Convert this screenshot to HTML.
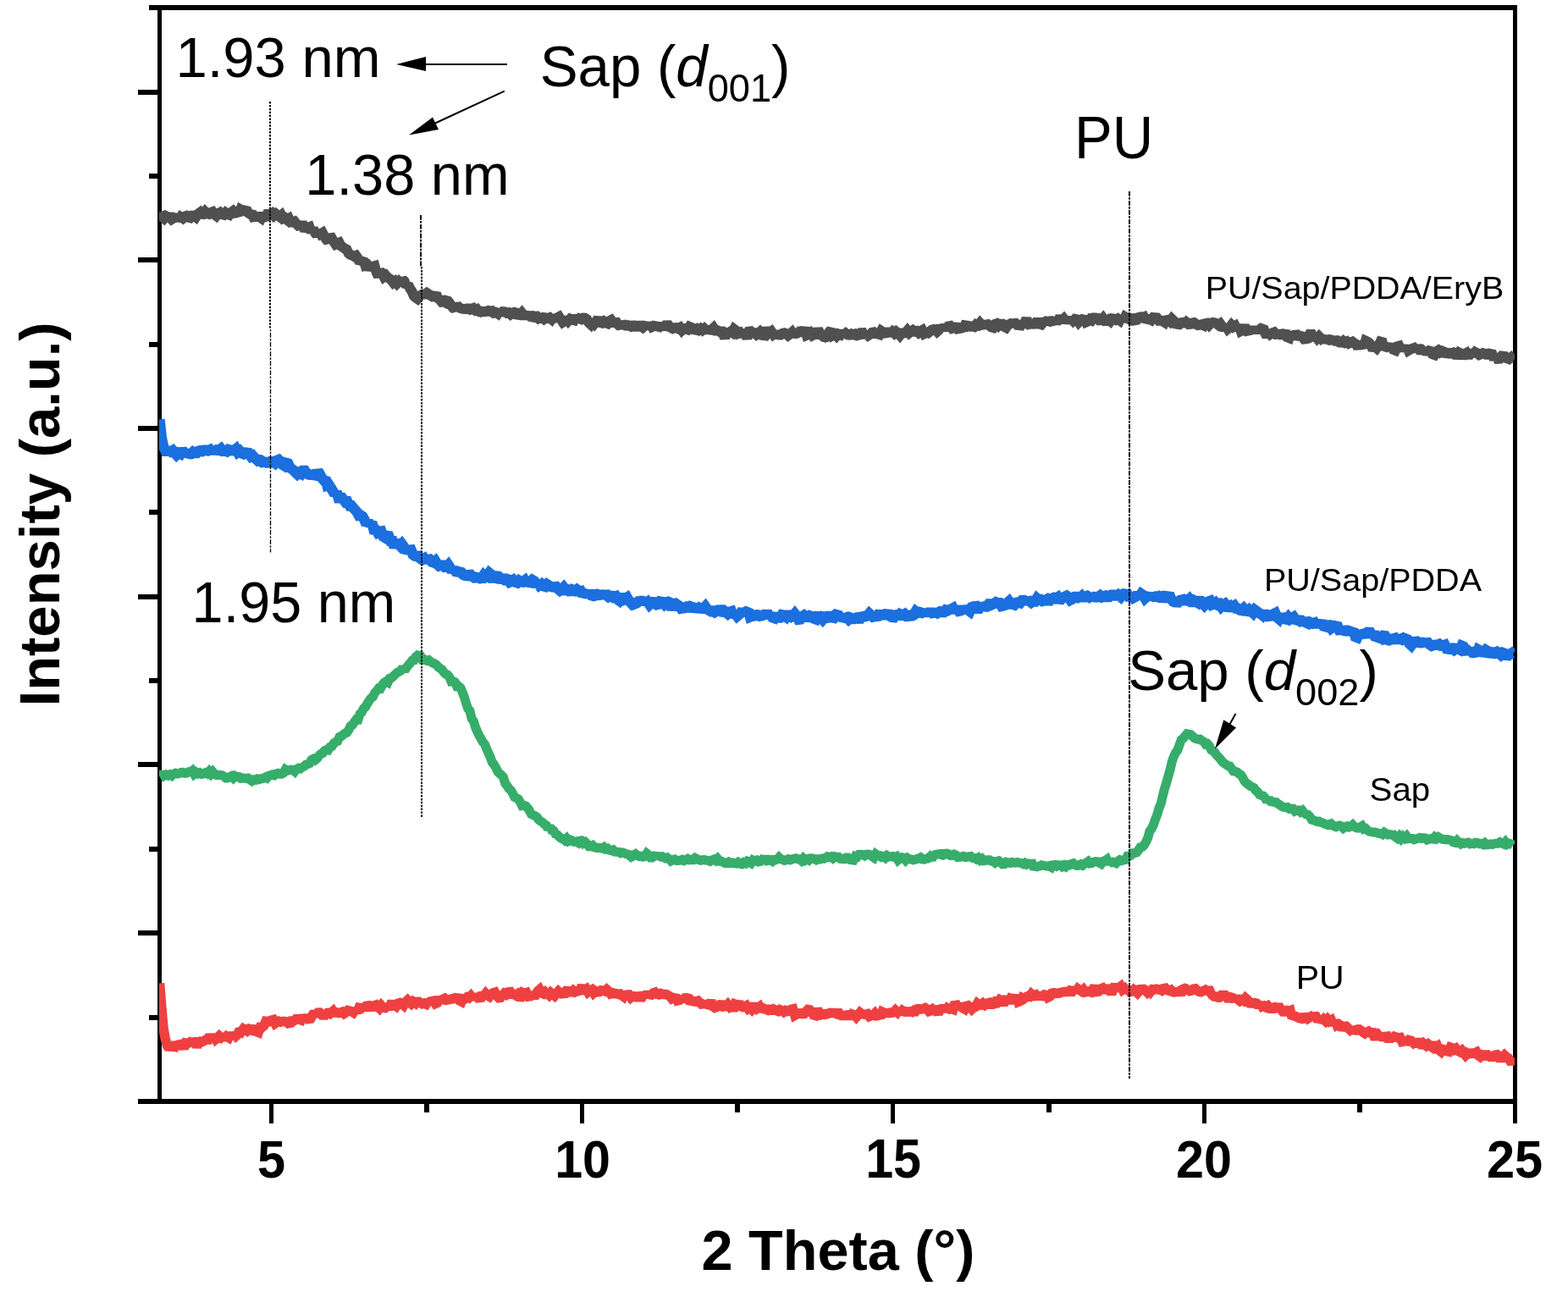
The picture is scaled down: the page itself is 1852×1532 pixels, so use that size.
<!DOCTYPE html>
<html><head><meta charset="utf-8"><title>XRD patterns</title>
<style>
html,body{margin:0;padding:0;background:#fff;}
body{width:1852px;height:1532px;overflow:hidden;}
svg{display:block;}
.lbl{font-family:"Liberation Sans",Arial,sans-serif;}
</style></head><body>
<svg width="1852" height="1532" viewBox="0 0 1852 1532">
<rect width="1852" height="1532" fill="#fff"/>
<defs><clipPath id="pc"><rect x="188" y="0" width="1601" height="1532"/></clipPath></defs>
<g fill="#000"><rect x="186" y="6" width="5" height="1298"/><rect x="1787" y="6" width="5" height="1298"/><rect x="176" y="6" width="1616" height="6"/><rect x="163" y="1298" width="1629" height="6"/><rect x="163" y="106" width="24" height="6"/><rect x="163" y="304" width="24" height="6"/><rect x="163" y="503" width="24" height="6"/><rect x="163" y="702" width="24" height="6"/><rect x="163" y="900" width="24" height="6"/><rect x="163" y="1099" width="24" height="6"/><rect x="176" y="205" width="11" height="6"/><rect x="176" y="404" width="11" height="6"/><rect x="176" y="602" width="11" height="6"/><rect x="176" y="801" width="11" height="6"/><rect x="176" y="1000" width="11" height="6"/><rect x="176" y="1199" width="11" height="6"/><rect x="318" y="1303" width="5" height="24"/><rect x="685" y="1303" width="5" height="24"/><rect x="1052" y="1303" width="5" height="24"/><rect x="1420" y="1303" width="5" height="24"/><rect x="1787" y="1303" width="5" height="24"/><rect x="501" y="1303" width="6" height="11"/><rect x="868" y="1303" width="6" height="11"/><rect x="1236" y="1303" width="6" height="11"/><rect x="1603" y="1303" width="6" height="11"/></g>
<g fill="none" stroke-width="10" stroke-linejoin="miter" stroke-miterlimit="1.6" stroke-linecap="butt" clip-path="url(#pc)"><path d="M189.5 250.1 L191.7 256.0 L193.9 258.0 L196.1 255.4 L198.3 256.6 L200.5 256.6 L202.7 259.0 L204.9 257.6 L207.1 259.2 L209.3 253.2 L211.5 260.5 L213.7 256.5 L215.9 257.9 L218.1 255.8 L220.3 255.0 L222.5 256.7 L224.7 257.3 L226.9 254.8 L229.1 254.8 L231.3 256.5 L233.5 252.9 L235.7 251.3 L237.9 255.4 L240.1 252.9 L242.3 250.0 L244.5 252.2 L246.7 252.8 L248.9 251.0 L251.1 250.2 L253.3 253.3 L255.5 255.0 L257.7 252.3 L259.9 251.0 L262.1 253.2 L264.3 253.8 L266.5 251.3 L268.7 253.0 L270.9 253.8 L273.1 250.9 L275.3 249.3 L277.5 251.6 L279.7 251.2 L281.9 252.9 L284.1 247.5 L286.3 248.8 L288.5 248.4 L290.7 246.6 L292.9 251.2 L295.1 252.7 L297.3 250.7 L299.5 256.2 L301.7 255.8 L303.9 256.1 L306.1 256.1 L308.3 257.6 L310.5 252.6 L312.7 256.3 L314.9 255.4 L317.1 249.2 L319.3 253.3 L321.5 251.9 L323.7 254.6 L325.9 252.7 L328.1 254.5 L330.3 256.1 L332.5 254.2 L334.7 258.2 L336.9 257.4 L339.1 259.5 L341.3 258.1 L343.5 262.5 L345.7 262.3 L347.9 261.5 L350.1 264.2 L352.3 266.6 L354.5 268.7 L356.7 262.4 L358.9 268.9 L361.1 269.1 L363.3 269.0 L365.5 268.2 L367.7 274.3 L369.9 270.0 L372.1 275.1 L374.3 277.8 L376.5 272.5 L378.7 276.3 L380.9 275.0 L383.1 279.3 L385.3 283.0 L387.5 285.0 L389.7 277.6 L391.9 281.3 L394.1 285.3 L396.3 288.5 L398.5 287.4 L400.7 286.5 L402.9 290.7 L405.1 292.0 L407.3 293.7 L409.5 294.6 L411.7 299.1 L413.9 300.9 L416.1 301.7 L418.3 303.0 L420.5 302.0 L422.7 305.1 L424.9 310.0 L427.1 308.1 L429.3 306.5 L431.5 313.7 L433.7 313.1 L435.9 317.8 L438.1 314.6 L440.3 314.8 L442.5 314.2 L444.7 321.9 L446.9 326.3 L449.1 320.5 L451.3 322.5 L453.5 326.9 L455.7 325.3 L457.9 327.9 L460.1 328.9 L462.3 331.1 L464.5 333.9 L466.7 332.2 L468.9 334.8 L471.1 332.5 L473.3 334.7 L475.5 330.0 L477.7 332.3 L479.9 338.1 L482.1 336.2 L484.3 340.8 L486.5 344.1 L488.7 349.5 L490.9 351.4 L493.1 352.9 L495.3 350.2 L497.5 348.4 L499.7 347.6 L501.9 347.6 L504.1 346.0 L506.3 347.5 L508.5 348.9 L510.7 350.3 L512.9 349.8 L515.1 347.2 L517.3 352.3 L519.5 353.9 L521.7 356.8 L523.9 356.6 L526.1 354.8 L528.3 355.4 L530.5 362.3 L532.7 360.4 L534.9 363.6 L537.1 365.2 L539.3 359.5 L541.5 362.9 L543.7 363.8 L545.9 364.6 L548.1 365.0 L550.3 364.7 L552.5 365.1 L554.7 361.7 L556.9 365.0 L559.1 364.1 L561.3 366.3 L563.5 365.3 L565.7 368.0 L567.9 368.7 L570.1 367.8 L572.3 368.1 L574.5 367.9 L576.7 367.0 L578.9 367.9 L581.1 367.4 L583.3 369.6 L585.5 369.0 L587.7 370.4 L589.9 366.5 L592.1 371.6 L594.3 368.2 L596.5 368.4 L598.7 369.8 L600.9 369.3 L603.1 371.3 L605.3 369.7 L607.5 368.8 L609.7 369.5 L611.9 374.5 L614.1 371.9 L616.3 369.5 L618.5 372.3 L620.7 369.1 L622.9 376.7 L625.1 369.6 L627.3 374.2 L629.5 374.6 L631.7 370.5 L633.9 374.5 L636.1 376.3 L638.3 375.4 L640.5 375.1 L642.7 376.9 L644.9 375.4 L647.1 376.0 L649.3 375.2 L651.5 377.1 L653.7 373.8 L655.9 377.8 L658.1 375.2 L660.3 374.1 L662.5 377.5 L664.7 380.6 L666.9 379.2 L669.1 376.2 L671.3 379.0 L673.5 376.7 L675.7 377.6 L677.9 378.2 L680.1 373.1 L682.3 378.8 L684.5 376.3 L686.7 377.2 L688.9 375.6 L691.1 375.7 L693.3 377.1 L695.5 381.2 L697.7 383.2 L699.9 379.6 L702.1 382.2 L704.3 379.4 L706.5 376.0 L708.7 380.7 L710.9 381.5 L713.1 379.7 L715.3 381.5 L717.5 382.2 L719.7 379.2 L721.9 378.0 L724.1 381.0 L726.3 381.2 L728.5 381.0 L730.7 384.1 L732.9 385.9 L735.1 381.4 L737.3 384.0 L739.5 384.7 L741.7 384.3 L743.9 385.2 L746.1 382.2 L748.3 384.9 L750.5 387.9 L752.7 385.3 L754.9 382.4 L757.1 385.2 L759.3 386.8 L761.5 385.0 L763.7 383.1 L765.9 387.9 L768.1 382.0 L770.3 386.0 L772.5 385.0 L774.7 382.6 L776.9 388.1 L779.1 386.3 L781.3 383.1 L783.5 387.2 L785.7 385.1 L787.9 382.0 L790.1 384.9 L792.3 387.1 L794.5 388.1 L796.7 387.2 L798.9 387.1 L801.1 388.2 L803.3 386.9 L805.5 390.1 L807.7 388.0 L809.9 388.5 L812.1 389.2 L814.3 385.9 L816.5 386.8 L818.7 391.9 L820.9 389.5 L823.1 388.3 L825.3 389.8 L827.5 388.2 L829.7 390.0 L831.9 388.1 L834.1 390.3 L836.3 386.4 L838.5 393.0 L840.7 389.2 L842.9 387.1 L845.1 390.3 L847.3 390.2 L849.5 391.5 L851.7 388.9 L853.9 392.5 L856.1 399.8 L858.3 389.2 L860.5 393.0 L862.7 391.7 L864.9 393.0 L867.1 388.8 L869.3 390.4 L871.5 394.0 L873.7 393.1 L875.9 396.8 L878.1 391.8 L880.3 393.7 L882.5 399.8 L884.7 391.7 L886.9 391.4 L889.1 393.3 L891.3 393.3 L893.5 395.3 L895.7 393.7 L897.9 391.7 L900.1 393.9 L902.3 399.2 L904.5 396.2 L906.7 387.3 L908.9 393.1 L911.1 391.5 L913.3 394.8 L915.5 393.0 L917.7 397.7 L919.9 395.4 L922.1 395.4 L924.3 393.8 L926.5 393.3 L928.7 394.1 L930.9 396.2 L933.1 394.6 L935.3 392.6 L937.5 396.2 L939.7 393.8 L941.9 393.3 L944.1 391.7 L946.3 392.2 L948.5 392.1 L950.7 387.5 L952.9 395.9 L955.1 395.0 L957.3 393.3 L959.5 396.2 L961.7 394.9 L963.9 394.9 L966.1 388.7 L968.3 393.7 L970.5 395.5 L972.7 397.9 L974.9 398.5 L977.1 397.7 L979.3 392.0 L981.5 389.8 L983.7 396.0 L985.9 394.8 L988.1 396.9 L990.3 394.5 L992.5 395.3 L994.7 391.5 L996.9 395.8 L999.1 393.8 L1001.3 395.5 L1003.5 395.7 L1005.7 394.4 L1007.9 395.3 L1010.1 394.5 L1012.3 396.2 L1014.5 395.6 L1016.7 393.2 L1018.9 393.1 L1021.1 398.1 L1023.3 394.0 L1025.5 396.3 L1027.7 394.9 L1029.9 392.7 L1032.1 392.3 L1034.3 394.1 L1036.5 394.3 L1038.7 395.0 L1040.9 390.8 L1043.1 392.2 L1045.3 393.2 L1047.5 396.9 L1049.7 388.1 L1051.9 394.1 L1054.1 391.9 L1056.3 393.9 L1058.5 391.8 L1060.7 393.6 L1062.9 396.1 L1065.1 393.3 L1067.3 393.4 L1069.5 393.1 L1071.7 390.5 L1073.9 393.2 L1076.1 391.4 L1078.3 390.0 L1080.5 391.5 L1082.7 391.0 L1084.9 393.0 L1087.1 391.1 L1089.3 389.9 L1091.5 394.1 L1093.7 392.9 L1095.9 393.4 L1098.1 391.7 L1100.3 389.9 L1102.5 389.1 L1104.7 389.2 L1106.9 391.6 L1109.1 389.6 L1111.3 385.8 L1113.5 388.7 L1115.7 385.5 L1117.9 388.7 L1120.1 385.4 L1122.3 385.0 L1124.5 387.8 L1126.7 387.1 L1128.9 383.4 L1131.1 388.5 L1133.3 391.4 L1135.5 383.1 L1137.7 390.2 L1139.9 384.4 L1142.1 384.7 L1144.3 385.2 L1146.5 382.2 L1148.7 388.1 L1150.9 386.2 L1153.1 383.3 L1155.3 384.2 L1157.5 381.4 L1159.7 383.8 L1161.9 386.6 L1164.1 380.6 L1166.3 383.3 L1168.5 384.5 L1170.7 386.4 L1172.9 387.0 L1175.1 382.9 L1177.3 382.2 L1179.5 384.7 L1181.7 382.8 L1183.9 382.8 L1186.1 385.8 L1188.3 387.0 L1190.5 383.8 L1192.7 382.7 L1194.9 384.3 L1197.1 378.7 L1199.3 382.7 L1201.5 380.3 L1203.7 387.8 L1205.9 383.9 L1208.1 382.5 L1210.3 381.6 L1212.5 376.3 L1214.7 383.3 L1216.9 385.1 L1219.1 379.7 L1221.3 382.6 L1223.5 382.5 L1225.7 377.3 L1227.9 382.6 L1230.1 383.3 L1232.3 380.7 L1234.5 379.8 L1236.7 381.5 L1238.9 376.2 L1241.1 379.7 L1243.3 381.6 L1245.5 376.4 L1247.7 381.2 L1249.9 378.0 L1252.1 374.2 L1254.3 378.4 L1256.5 376.4 L1258.7 379.2 L1260.9 375.8 L1263.1 380.7 L1265.3 376.7 L1267.5 379.0 L1269.7 376.9 L1271.9 377.4 L1274.1 380.7 L1276.3 378.5 L1278.5 377.1 L1280.7 375.2 L1282.9 380.4 L1285.1 379.5 L1287.3 377.1 L1289.5 378.3 L1291.7 375.4 L1293.9 375.4 L1296.1 375.8 L1298.3 378.3 L1300.5 378.1 L1302.7 375.8 L1304.9 379.0 L1307.1 379.0 L1309.3 377.6 L1311.5 379.4 L1313.7 376.4 L1315.9 376.6 L1318.1 377.8 L1320.3 376.5 L1322.5 378.2 L1324.7 373.5 L1326.9 379.3 L1329.1 374.3 L1331.3 375.6 L1333.5 372.9 L1335.7 377.2 L1337.9 378.7 L1340.1 378.3 L1342.3 377.9 L1344.5 372.7 L1346.7 374.5 L1348.9 375.3 L1351.1 374.4 L1353.3 379.0 L1355.5 377.1 L1357.7 376.8 L1359.9 378.0 L1362.1 375.0 L1364.3 375.2 L1366.5 375.4 L1368.7 378.7 L1370.9 378.6 L1373.1 379.3 L1375.3 380.7 L1377.5 375.6 L1379.7 377.7 L1381.9 379.6 L1384.1 376.6 L1386.3 378.7 L1388.5 382.4 L1390.7 382.9 L1392.9 383.2 L1395.1 381.2 L1397.3 380.9 L1399.5 383.9 L1401.7 380.9 L1403.9 382.7 L1406.1 385.0 L1408.3 381.5 L1410.5 381.1 L1412.7 382.6 L1414.9 384.1 L1417.1 383.9 L1419.3 383.4 L1421.5 384.4 L1423.7 379.8 L1425.9 381.6 L1428.1 384.0 L1430.3 381.7 L1432.5 381.0 L1434.7 381.4 L1436.9 382.2 L1439.1 384.0 L1441.3 382.4 L1443.5 385.4 L1445.7 388.8 L1447.9 385.0 L1450.1 388.5 L1452.3 386.6 L1454.5 383.8 L1456.7 386.1 L1458.9 384.8 L1461.1 389.1 L1463.3 385.2 L1465.5 391.0 L1467.7 389.8 L1469.9 384.4 L1472.1 391.0 L1474.3 393.0 L1476.5 388.2 L1478.7 392.5 L1480.9 386.7 L1483.1 391.5 L1485.3 387.6 L1487.5 392.5 L1489.7 387.8 L1491.9 386.2 L1494.1 393.1 L1496.3 397.4 L1498.5 391.3 L1500.7 394.6 L1502.9 393.3 L1505.1 392.5 L1507.3 394.8 L1509.5 397.2 L1511.7 391.1 L1513.9 395.2 L1516.1 395.0 L1518.3 391.3 L1520.5 398.2 L1522.7 399.1 L1524.9 393.0 L1527.1 399.1 L1529.3 395.7 L1531.5 395.5 L1533.7 399.4 L1535.9 396.9 L1538.1 397.4 L1540.3 400.4 L1542.5 400.2 L1544.7 399.7 L1546.9 394.9 L1549.1 394.9 L1551.3 401.2 L1553.5 397.0 L1555.7 399.7 L1557.9 397.4 L1560.1 399.7 L1562.3 397.6 L1564.5 404.4 L1566.7 398.9 L1568.9 401.2 L1571.1 401.3 L1573.3 404.7 L1575.5 399.2 L1577.7 402.6 L1579.9 402.5 L1582.1 404.4 L1584.3 404.6 L1586.5 402.8 L1588.7 404.7 L1590.9 403.6 L1593.1 405.7 L1595.3 404.8 L1597.5 403.8 L1599.7 405.5 L1601.9 406.6 L1604.1 411.1 L1606.3 405.3 L1608.5 407.3 L1610.7 410.1 L1612.9 402.6 L1615.1 403.6 L1617.3 405.0 L1619.5 407.6 L1621.7 413.5 L1623.9 409.2 L1626.1 411.2 L1628.3 408.3 L1630.5 403.6 L1632.7 404.2 L1634.9 411.7 L1637.1 410.1 L1639.3 407.0 L1641.5 412.6 L1643.7 406.9 L1645.9 413.0 L1648.1 413.9 L1650.3 409.3 L1652.5 408.7 L1654.7 413.2 L1656.9 409.2 L1659.1 413.7 L1661.3 409.4 L1663.5 414.0 L1665.7 412.7 L1667.9 411.8 L1670.1 411.0 L1672.3 413.7 L1674.5 409.3 L1676.7 413.1 L1678.9 413.0 L1681.1 415.6 L1683.3 411.6 L1685.5 418.3 L1687.7 414.1 L1689.9 412.5 L1692.1 418.3 L1694.3 419.1 L1696.5 415.2 L1698.7 413.8 L1700.9 416.0 L1703.1 414.6 L1705.3 415.5 L1707.5 419.8 L1709.7 417.3 L1711.9 416.9 L1714.1 417.5 L1716.3 416.7 L1718.5 418.8 L1720.7 418.9 L1722.9 416.3 L1725.1 417.4 L1727.3 422.6 L1729.5 418.3 L1731.7 417.1 L1733.9 422.1 L1736.1 417.7 L1738.3 415.4 L1740.5 419.5 L1742.7 416.1 L1744.9 417.2 L1747.1 419.1 L1749.3 418.3 L1751.5 417.1 L1753.7 417.7 L1755.9 417.8 L1758.1 421.9 L1760.3 418.0 L1762.5 418.5 L1764.7 424.5 L1766.9 419.0 L1769.1 423.7 L1771.3 423.6 L1773.5 420.6 L1775.7 418.1 L1777.9 422.5 L1780.1 423.2 L1782.3 424.1 L1784.5 422.4 L1786.7 425.2 L1787.0 425.7" stroke="#505050" stroke-width="12"/><path d="M188.5 495.5 L190.7 516.5 L192.9 527.0 L195.1 531.6 L197.3 536.5 L199.5 531.5 L201.7 533.2 L203.9 532.0 L206.1 534.8 L208.3 537.2 L210.5 534.9 L212.7 535.9 L214.9 530.5 L217.1 534.9 L219.3 532.5 L221.5 538.2 L223.7 536.1 L225.9 536.1 L228.1 533.8 L230.3 535.1 L232.5 535.1 L234.7 532.7 L236.9 532.2 L239.1 532.9 L241.3 531.7 L243.5 531.7 L245.7 532.4 L247.9 531.4 L250.1 534.7 L252.3 529.5 L254.5 534.8 L256.7 531.6 L258.9 531.8 L261.1 530.0 L263.3 532.7 L265.5 532.5 L267.7 533.3 L269.9 531.0 L272.1 531.6 L274.3 534.8 L276.5 531.8 L278.7 530.1 L280.9 534.2 L283.1 532.7 L285.3 535.3 L287.5 536.2 L289.7 534.7 L291.9 532.1 L294.1 536.4 L296.3 539.3 L298.5 538.1 L300.7 540.7 L302.9 542.7 L305.1 540.1 L307.3 544.7 L309.5 546.1 L311.7 545.5 L313.9 546.1 L316.1 546.4 L318.3 549.3 L320.5 545.2 L322.7 545.1 L324.9 546.9 L327.1 544.0 L329.3 543.1 L331.5 545.2 L333.7 548.8 L335.9 550.1 L338.1 547.0 L340.3 547.6 L342.5 552.4 L344.7 554.0 L346.9 555.6 L349.1 558.2 L351.3 560.2 L353.5 558.4 L355.7 559.6 L357.9 556.0 L360.1 556.0 L362.3 559.3 L364.5 560.4 L366.7 560.7 L368.9 560.6 L371.1 561.2 L373.3 561.6 L375.5 556.4 L377.7 559.8 L379.9 564.2 L382.1 566.8 L384.3 564.8 L386.5 573.5 L388.7 572.9 L390.9 576.3 L393.1 580.1 L395.3 583.6 L397.5 580.8 L399.7 588.1 L401.9 588.0 L404.1 588.0 L406.3 590.9 L408.5 588.6 L410.7 593.7 L412.9 597.4 L415.1 597.3 L417.3 600.0 L419.5 602.4 L421.7 604.8 L423.9 608.9 L426.1 608.7 L428.3 610.2 L430.5 614.0 L432.7 619.4 L434.9 616.1 L437.1 619.9 L439.3 617.2 L441.5 625.5 L443.7 625.8 L445.9 629.1 L448.1 627.9 L450.3 627.5 L452.5 633.5 L454.7 634.9 L456.9 633.0 L459.1 633.3 L461.3 639.0 L463.5 639.1 L465.7 646.6 L467.9 640.9 L470.1 642.4 L472.3 644.6 L474.5 642.4 L476.7 645.4 L478.9 652.2 L481.1 649.6 L483.3 649.8 L485.5 649.6 L487.7 655.1 L489.9 656.6 L492.1 657.1 L494.3 656.9 L496.5 659.7 L498.7 661.1 L500.9 659.8 L503.1 663.5 L505.3 658.3 L507.5 660.7 L509.7 663.5 L511.9 664.4 L514.1 662.6 L516.3 666.3 L518.5 668.4 L520.7 667.6 L522.9 667.7 L525.1 669.7 L527.3 669.5 L529.5 667.2 L531.7 670.5 L533.9 675.1 L536.1 671.2 L538.3 675.1 L540.5 675.4 L542.7 675.4 L544.9 676.0 L547.1 678.9 L549.3 679.8 L551.5 680.0 L553.7 676.4 L555.9 679.2 L558.1 680.8 L560.3 682.3 L562.5 681.9 L564.7 682.4 L566.9 683.2 L569.1 682.8 L571.3 679.5 L573.5 681.6 L575.7 680.2 L577.9 676.8 L580.1 678.6 L582.3 687.1 L584.5 680.3 L586.7 678.1 L588.9 682.0 L591.1 686.8 L593.3 683.7 L595.5 684.9 L597.7 683.7 L599.9 684.4 L602.1 687.6 L604.3 686.8 L606.5 685.2 L608.7 687.6 L610.9 688.3 L613.1 685.8 L615.3 687.2 L617.5 687.5 L619.7 685.8 L621.9 690.1 L624.1 687.6 L626.3 687.0 L628.5 685.0 L630.7 686.3 L632.9 692.8 L635.1 687.3 L637.3 691.2 L639.5 689.8 L641.7 692.2 L643.9 692.8 L646.1 690.2 L648.3 691.6 L650.5 692.9 L652.7 693.4 L654.9 693.5 L657.1 693.2 L659.3 695.7 L661.5 697.6 L663.7 696.3 L665.9 693.9 L668.1 696.8 L670.3 696.4 L672.5 697.7 L674.7 701.2 L676.9 697.0 L679.1 697.9 L681.3 696.3 L683.5 698.1 L685.7 697.9 L687.9 703.0 L690.1 700.6 L692.3 699.1 L694.5 705.0 L696.7 698.2 L698.9 703.4 L701.1 704.1 L703.3 703.5 L705.5 702.1 L707.7 702.8 L709.9 702.7 L712.1 705.5 L714.3 699.0 L716.5 703.3 L718.7 705.1 L720.9 703.9 L723.1 701.5 L725.3 705.2 L727.5 704.4 L729.7 708.1 L731.9 709.7 L734.1 707.1 L736.3 703.0 L738.5 707.1 L740.7 705.7 L742.9 709.6 L745.1 712.0 L747.3 709.3 L749.5 713.3 L751.7 712.4 L753.9 710.9 L756.1 707.7 L758.3 710.3 L760.5 707.2 L762.7 712.9 L764.9 711.2 L767.1 714.2 L769.3 712.1 L771.5 707.5 L773.7 713.4 L775.9 714.4 L778.1 716.2 L780.3 710.7 L782.5 711.1 L784.7 713.6 L786.9 711.4 L789.1 710.9 L791.3 711.8 L793.5 720.2 L795.7 713.4 L797.9 712.8 L800.1 714.3 L802.3 715.6 L804.5 718.7 L806.7 718.2 L808.9 718.1 L811.1 716.7 L813.3 717.3 L815.5 715.8 L817.7 714.2 L819.9 722.2 L822.1 717.0 L824.3 720.5 L826.5 717.9 L828.7 718.7 L830.9 718.8 L833.1 716.4 L835.3 719.5 L837.5 720.8 L839.7 722.1 L841.9 721.7 L844.1 723.2 L846.3 721.9 L848.5 721.5 L850.7 717.5 L852.9 721.0 L855.1 725.9 L857.3 723.1 L859.5 724.9 L861.7 722.9 L863.9 722.2 L866.1 728.5 L868.3 725.0 L870.5 727.8 L872.7 725.9 L874.9 724.3 L877.1 720.3 L879.3 725.6 L881.5 722.1 L883.7 720.9 L885.9 728.6 L888.1 727.7 L890.3 727.6 L892.5 726.5 L894.7 726.4 L896.9 727.6 L899.1 727.1 L901.3 727.0 L903.5 728.6 L905.7 721.7 L907.9 729.2 L910.1 725.9 L912.3 729.3 L914.5 730.1 L916.7 725.8 L918.9 729.5 L921.1 729.5 L923.3 726.3 L925.5 726.8 L927.7 728.3 L929.9 723.2 L932.1 727.2 L934.3 728.6 L936.5 727.3 L938.7 724.8 L940.9 727.6 L943.1 731.8 L945.3 731.5 L947.5 728.4 L949.7 726.9 L951.9 728.7 L954.1 728.9 L956.3 727.4 L958.5 728.3 L960.7 730.4 L962.9 731.2 L965.1 723.8 L967.3 731.4 L969.5 729.6 L971.7 731.9 L973.9 729.4 L976.1 730.4 L978.3 733.1 L980.5 723.0 L982.7 733.1 L984.9 730.0 L987.1 725.6 L989.3 723.7 L991.5 730.3 L993.7 727.3 L995.9 731.8 L998.1 730.0 L1000.3 729.2 L1002.5 731.6 L1004.7 729.8 L1006.9 730.9 L1009.1 731.0 L1011.3 729.8 L1013.5 730.7 L1015.7 730.6 L1017.9 725.7 L1020.1 728.0 L1022.3 728.2 L1024.5 727.5 L1026.7 724.7 L1028.9 726.8 L1031.1 728.7 L1033.3 728.2 L1035.5 731.0 L1037.7 726.2 L1039.9 726.4 L1042.1 726.0 L1044.3 726.4 L1046.5 725.6 L1048.7 722.7 L1050.9 727.5 L1053.1 728.8 L1055.3 729.0 L1057.5 724.0 L1059.7 725.8 L1061.9 730.2 L1064.1 725.7 L1066.3 726.6 L1068.5 725.4 L1070.7 727.8 L1072.9 727.6 L1075.1 730.4 L1077.3 726.3 L1079.5 726.0 L1081.7 722.2 L1083.9 723.8 L1086.1 723.0 L1088.3 723.7 L1090.5 721.4 L1092.7 726.8 L1094.9 721.6 L1097.1 724.4 L1099.3 720.8 L1101.5 724.2 L1103.7 726.8 L1105.9 721.2 L1108.1 723.6 L1110.3 722.4 L1112.5 723.0 L1114.7 723.1 L1116.9 720.6 L1119.1 721.3 L1121.3 720.2 L1123.5 719.5 L1125.7 718.3 L1127.9 722.9 L1130.1 719.0 L1132.3 721.8 L1134.5 721.3 L1136.7 717.7 L1138.9 721.9 L1141.1 717.5 L1143.3 720.5 L1145.5 722.1 L1147.7 717.1 L1149.9 716.3 L1152.1 716.1 L1154.3 722.9 L1156.5 716.8 L1158.7 714.5 L1160.9 718.8 L1163.1 716.4 L1165.3 716.4 L1167.5 714.0 L1169.7 711.0 L1171.9 714.0 L1174.1 713.0 L1176.3 711.4 L1178.5 712.3 L1180.7 712.3 L1182.9 715.9 L1185.1 715.4 L1187.3 714.7 L1189.5 712.1 L1191.7 710.2 L1193.9 713.4 L1196.1 713.5 L1198.3 714.4 L1200.5 711.9 L1202.7 711.4 L1204.9 712.1 L1207.1 709.2 L1209.3 709.2 L1211.5 712.1 L1213.7 707.7 L1215.9 710.0 L1218.1 711.7 L1220.3 710.2 L1222.5 710.4 L1224.7 706.8 L1226.9 708.7 L1229.1 708.2 L1231.3 709.9 L1233.5 709.3 L1235.7 708.2 L1237.9 712.1 L1240.1 708.9 L1242.3 706.9 L1244.5 706.0 L1246.7 707.0 L1248.9 705.7 L1251.1 710.4 L1253.3 707.9 L1255.5 705.8 L1257.7 704.9 L1259.9 703.8 L1262.1 705.5 L1264.3 708.8 L1266.5 707.7 L1268.7 705.6 L1270.9 705.9 L1273.1 701.4 L1275.3 707.0 L1277.5 704.8 L1279.7 708.2 L1281.9 704.7 L1284.1 703.9 L1286.3 705.3 L1288.5 703.4 L1290.7 707.6 L1292.9 705.2 L1295.1 705.3 L1297.3 705.1 L1299.5 703.5 L1301.7 705.3 L1303.9 704.5 L1306.1 707.9 L1308.3 704.0 L1310.5 704.6 L1312.7 702.7 L1314.9 702.7 L1317.1 702.7 L1319.3 706.1 L1321.5 703.3 L1323.7 705.1 L1325.9 702.2 L1328.1 701.9 L1330.3 698.4 L1332.5 704.4 L1334.7 707.1 L1336.9 702.1 L1339.1 705.9 L1341.3 704.7 L1343.5 701.5 L1345.7 704.9 L1347.9 701.5 L1350.1 703.0 L1352.3 706.6 L1354.5 704.5 L1356.7 701.9 L1358.9 707.8 L1361.1 702.5 L1363.3 704.8 L1365.5 704.6 L1367.7 705.2 L1369.9 703.9 L1372.1 702.4 L1374.3 710.3 L1376.5 704.3 L1378.7 704.6 L1380.9 701.4 L1383.1 707.2 L1385.3 710.1 L1387.5 710.5 L1389.7 713.8 L1391.9 711.2 L1394.1 709.0 L1396.3 708.5 L1398.5 711.8 L1400.7 708.8 L1402.9 709.6 L1405.1 707.4 L1407.3 710.0 L1409.5 714.4 L1411.7 710.2 L1413.9 711.5 L1416.1 705.6 L1418.3 714.2 L1420.5 712.4 L1422.7 715.0 L1424.9 712.7 L1427.1 710.7 L1429.3 709.9 L1431.5 714.3 L1433.7 713.5 L1435.9 711.8 L1438.1 714.1 L1440.3 713.3 L1442.5 716.6 L1444.7 714.5 L1446.9 713.2 L1449.1 716.1 L1451.3 715.5 L1453.5 720.5 L1455.7 716.7 L1457.9 715.4 L1460.1 718.7 L1462.3 718.8 L1464.5 720.5 L1466.7 720.9 L1468.9 718.7 L1471.1 721.4 L1473.3 721.8 L1475.5 719.9 L1477.7 721.8 L1479.9 723.9 L1482.1 720.4 L1484.3 722.0 L1486.5 723.7 L1488.7 724.9 L1490.9 726.6 L1493.1 722.8 L1495.3 726.8 L1497.5 727.8 L1499.7 730.2 L1501.9 726.2 L1504.1 725.4 L1506.3 724.3 L1508.5 729.2 L1510.7 731.1 L1512.9 727.0 L1515.1 729.8 L1517.3 731.1 L1519.5 731.6 L1521.7 729.0 L1523.9 731.6 L1526.1 730.5 L1528.3 728.9 L1530.5 732.0 L1532.7 732.6 L1534.9 730.2 L1537.1 733.7 L1539.3 737.6 L1541.5 730.5 L1543.7 735.8 L1545.9 736.8 L1548.1 735.4 L1550.3 736.5 L1552.5 735.7 L1554.7 739.8 L1556.9 735.3 L1559.1 737.6 L1561.3 734.1 L1563.5 739.6 L1565.7 740.2 L1567.9 736.2 L1570.1 738.5 L1572.3 741.9 L1574.5 740.2 L1576.7 739.1 L1578.9 736.7 L1581.1 743.4 L1583.3 747.4 L1585.5 742.5 L1587.7 744.9 L1589.9 745.3 L1592.1 744.7 L1594.3 745.5 L1596.5 746.0 L1598.7 744.2 L1600.9 752.1 L1603.1 753.0 L1605.3 748.1 L1607.5 751.8 L1609.7 746.5 L1611.9 748.2 L1614.1 751.6 L1616.3 747.0 L1618.5 747.1 L1620.7 751.1 L1622.9 746.4 L1625.1 755.0 L1627.3 753.3 L1629.5 752.6 L1631.7 754.0 L1633.9 750.9 L1636.1 751.2 L1638.3 755.6 L1640.5 756.2 L1642.7 754.8 L1644.9 754.8 L1647.1 754.1 L1649.3 758.7 L1651.5 752.8 L1653.7 754.5 L1655.9 755.5 L1658.1 753.7 L1660.3 754.5 L1662.5 755.4 L1664.7 760.2 L1666.9 762.3 L1669.1 759.3 L1671.3 755.3 L1673.5 757.8 L1675.7 759.1 L1677.9 759.1 L1680.1 759.1 L1682.3 761.3 L1684.5 756.2 L1686.7 759.4 L1688.9 761.4 L1691.1 762.8 L1693.3 762.1 L1695.5 761.8 L1697.7 761.8 L1699.9 760.9 L1702.1 762.8 L1704.3 762.5 L1706.5 761.7 L1708.7 766.3 L1710.9 766.6 L1713.1 763.5 L1715.3 766.0 L1717.5 767.7 L1719.7 766.0 L1721.9 766.0 L1724.1 767.2 L1726.3 762.8 L1728.5 763.7 L1730.7 768.3 L1732.9 768.1 L1735.1 770.8 L1737.3 767.0 L1739.5 770.8 L1741.7 771.0 L1743.9 773.3 L1746.1 767.4 L1748.3 768.6 L1750.5 770.2 L1752.7 770.4 L1754.9 767.8 L1757.1 769.0 L1759.3 767.6 L1761.5 775.7 L1763.7 770.7 L1765.9 771.0 L1768.1 769.9 L1770.3 771.4 L1772.5 773.3 L1774.7 771.0 L1776.9 771.8 L1779.1 776.8 L1781.3 774.1 L1783.5 772.8 L1785.7 771.4 L1787.0 772.4" stroke="#1b6fde" stroke-width="12.5"/><path d="M189.7 917.5 L191.9 911.9 L194.1 916.2 L196.3 915.0 L198.5 916.1 L200.7 914.9 L202.9 916.3 L205.1 914.1 L207.3 913.2 L209.5 914.1 L211.7 913.6 L213.9 912.5 L216.1 912.4 L218.3 913.3 L220.5 913.1 L222.7 911.8 L224.9 911.9 L227.1 910.3 L229.3 914.1 L231.5 912.1 L233.7 913.8 L235.9 912.8 L238.1 914.4 L240.3 914.0 L242.5 912.7 L244.7 913.9 L246.9 911.4 L249.1 914.2 L251.3 911.7 L253.5 914.2 L255.7 915.6 L257.9 915.3 L260.1 915.5 L262.3 915.8 L264.5 917.0 L266.7 918.9 L268.9 918.9 L271.1 917.7 L273.3 916.7 L275.5 918.9 L277.7 916.6 L279.9 917.7 L282.1 917.6 L284.3 919.3 L286.5 918.8 L288.7 919.3 L290.9 919.5 L293.1 919.1 L295.3 921.1 L297.5 922.5 L299.7 920.9 L301.9 921.4 L304.1 920.0 L306.3 920.7 L308.5 919.7 L310.7 919.4 L312.9 918.3 L315.1 919.2 L317.3 916.4 L319.5 915.9 L321.7 915.0 L323.9 915.8 L326.1 913.9 L328.3 913.3 L330.5 914.2 L332.7 914.2 L334.9 913.0 L337.1 909.0 L339.3 910.4 L341.5 909.8 L343.7 909.2 L345.9 909.6 L348.1 911.4 L350.3 908.5 L352.5 907.3 L354.7 908.0 L356.9 906.4 L359.1 905.3 L361.3 903.1 L363.5 902.5 L365.7 901.6 L367.9 897.5 L370.1 896.3 L372.3 897.7 L374.5 895.9 L376.7 892.8 L378.9 890.5 L381.1 889.7 L383.3 886.7 L385.5 885.7 L387.7 886.0 L389.9 882.3 L392.1 881.5 L394.3 877.9 L396.5 876.5 L398.7 875.6 L400.9 870.6 L403.1 869.7 L405.3 867.8 L407.5 866.2 L409.7 865.4 L411.9 862.1 L414.1 857.4 L416.3 856.2 L418.5 852.9 L420.7 850.0 L422.9 850.1 L425.1 843.3 L427.3 841.3 L429.5 836.7 L431.7 835.0 L433.9 831.1 L436.1 827.6 L438.3 824.5 L440.5 823.1 L442.7 818.3 L444.9 816.0 L447.1 813.1 L449.3 813.4 L451.5 809.3 L453.7 806.3 L455.9 804.9 L458.1 806.1 L460.3 801.3 L462.5 800.6 L464.7 798.6 L466.9 796.6 L469.1 794.4 L471.3 793.4 L473.5 792.0 L475.7 788.5 L477.9 792.2 L480.1 788.6 L482.3 785.7 L484.5 783.2 L486.7 780.3 L488.9 779.9 L491.1 775.7 L493.3 774.1 L495.5 771.9 L497.7 777.8 L499.9 781.8 L502.1 779.3 L504.3 780.5 L506.5 779.7 L508.7 781.6 L510.9 783.0 L513.1 783.8 L515.3 785.0 L517.5 787.7 L519.7 789.4 L521.9 790.7 L524.1 794.0 L526.3 796.2 L528.5 796.9 L530.7 799.7 L532.9 804.8 L535.1 804.4 L537.3 805.6 L539.5 810.6 L541.7 810.4 L543.9 812.3 L546.1 817.7 L548.3 823.2 L550.5 830.4 L552.7 837.0 L554.9 839.5 L557.1 848.7 L559.3 851.7 L561.5 858.8 L563.7 864.1 L565.9 868.7 L568.1 872.4 L570.3 876.5 L572.5 878.9 L574.7 884.5 L576.9 889.6 L579.1 894.1 L581.3 900.5 L583.5 903.1 L585.7 906.7 L587.9 911.6 L590.1 913.7 L592.3 915.6 L594.5 918.0 L596.7 925.3 L598.9 927.9 L601.1 931.5 L603.3 933.3 L605.5 937.0 L607.7 941.6 L609.9 942.7 L612.1 943.8 L614.3 947.2 L616.5 951.7 L618.7 951.3 L620.9 951.9 L623.1 954.3 L625.3 957.4 L627.5 961.7 L629.7 962.8 L631.9 963.7 L634.1 965.0 L636.3 968.2 L638.5 970.0 L640.7 971.3 L642.9 973.5 L645.1 974.7 L647.3 979.2 L649.5 976.3 L651.7 980.7 L653.9 981.3 L656.1 985.1 L658.3 986.0 L660.5 988.4 L662.7 990.2 L664.9 991.0 L667.1 992.7 L669.3 990.4 L671.5 993.3 L673.7 992.1 L675.9 993.0 L678.1 994.4 L680.3 994.1 L682.5 995.3 L684.7 991.0 L686.9 993.0 L689.1 996.0 L691.3 994.7 L693.5 996.8 L695.7 999.9 L697.9 1000.0 L700.1 998.7 L702.3 1000.8 L704.5 1001.5 L706.7 1001.3 L708.9 1001.5 L711.1 1002.1 L713.3 1000.7 L715.5 1002.9 L717.7 1002.2 L719.9 1004.2 L722.1 1004.8 L724.3 1003.9 L726.5 1006.1 L728.7 1006.3 L730.9 1006.4 L733.1 1007.8 L735.3 1007.1 L737.5 1007.7 L739.7 1008.7 L741.9 1009.1 L744.1 1011.0 L746.3 1007.6 L748.5 1010.3 L750.7 1008.8 L752.9 1010.6 L755.1 1011.5 L757.3 1011.2 L759.5 1012.2 L761.7 1011.5 L763.9 1008.1 L766.1 1009.9 L768.3 1012.9 L770.5 1012.9 L772.7 1011.3 L774.9 1009.4 L777.1 1013.6 L779.3 1009.2 L781.5 1012.3 L783.7 1012.6 L785.9 1013.8 L788.1 1013.0 L790.3 1014.6 L792.5 1016.9 L794.7 1015.7 L796.9 1015.0 L799.1 1016.5 L801.3 1016.5 L803.5 1016.2 L805.7 1015.3 L807.9 1016.6 L810.1 1015.7 L812.3 1014.4 L814.5 1015.8 L816.7 1015.4 L818.9 1015.6 L821.1 1013.5 L823.3 1014.6 L825.5 1015.9 L827.7 1016.4 L829.9 1015.8 L832.1 1015.6 L834.3 1016.2 L836.5 1016.5 L838.7 1017.4 L840.9 1016.0 L843.1 1015.0 L845.3 1016.5 L847.5 1014.3 L849.7 1017.1 L851.9 1017.2 L854.1 1018.3 L856.3 1019.5 L858.5 1019.5 L860.7 1018.1 L862.9 1019.4 L865.1 1018.9 L867.3 1019.7 L869.5 1020.0 L871.7 1018.5 L873.9 1020.2 L876.1 1020.7 L878.3 1018.8 L880.5 1019.8 L882.7 1017.2 L884.9 1018.0 L887.1 1019.4 L889.3 1016.0 L891.5 1017.0 L893.7 1016.1 L895.9 1017.9 L898.1 1017.5 L900.3 1015.2 L902.5 1015.8 L904.7 1012.6 L906.9 1016.4 L909.1 1015.9 L911.3 1017.0 L913.5 1012.9 L915.7 1015.9 L917.9 1015.1 L920.1 1012.6 L922.3 1014.7 L924.5 1015.4 L926.7 1016.4 L928.9 1015.7 L931.1 1014.8 L933.3 1015.8 L935.5 1015.0 L937.7 1014.2 L939.9 1013.7 L942.1 1014.8 L944.3 1014.7 L946.5 1016.5 L948.7 1013.9 L950.9 1016.2 L953.1 1014.9 L955.3 1016.0 L957.5 1013.9 L959.7 1014.0 L961.9 1014.7 L964.1 1015.9 L966.3 1014.8 L968.5 1015.1 L970.7 1014.1 L972.9 1014.4 L975.1 1013.0 L977.3 1011.8 L979.5 1012.6 L981.7 1011.9 L983.9 1013.7 L986.1 1011.8 L988.3 1012.4 L990.5 1012.3 L992.7 1014.4 L994.9 1014.6 L997.1 1014.8 L999.3 1013.1 L1001.5 1013.1 L1003.7 1015.3 L1005.9 1015.7 L1008.1 1016.0 L1010.3 1011.4 L1012.5 1012.1 L1014.7 1009.3 L1016.9 1009.2 L1019.1 1009.5 L1021.3 1010.8 L1023.5 1009.2 L1025.7 1009.1 L1027.9 1009.7 L1030.1 1011.6 L1032.3 1013.1 L1034.5 1008.9 L1036.7 1010.5 L1038.9 1010.5 L1041.1 1012.4 L1043.3 1011.8 L1045.5 1013.3 L1047.7 1010.7 L1049.9 1012.1 L1052.1 1011.8 L1054.3 1011.4 L1056.5 1012.6 L1058.7 1011.7 L1060.9 1015.7 L1063.1 1013.9 L1065.3 1012.6 L1067.5 1013.2 L1069.7 1015.9 L1071.9 1013.6 L1074.1 1015.1 L1076.3 1015.1 L1078.5 1015.8 L1080.7 1015.4 L1082.9 1014.6 L1085.1 1014.2 L1087.3 1013.0 L1089.5 1014.9 L1091.7 1015.1 L1093.9 1014.3 L1096.1 1014.0 L1098.3 1012.0 L1100.5 1014.8 L1102.7 1010.9 L1104.9 1009.4 L1107.1 1009.0 L1109.3 1008.9 L1111.5 1009.5 L1113.7 1005.9 L1115.9 1009.2 L1118.1 1008.1 L1120.3 1008.8 L1122.5 1010.4 L1124.7 1010.4 L1126.9 1009.1 L1129.1 1010.0 L1131.3 1012.5 L1133.5 1012.2 L1135.7 1011.9 L1137.9 1011.3 L1140.1 1012.6 L1142.3 1012.3 L1144.5 1011.6 L1146.7 1011.4 L1148.9 1013.4 L1151.1 1013.6 L1153.3 1014.9 L1155.5 1013.4 L1157.7 1015.9 L1159.9 1014.4 L1162.1 1016.7 L1164.3 1016.4 L1166.5 1015.7 L1168.7 1015.8 L1170.9 1017.2 L1173.1 1017.4 L1175.3 1019.1 L1177.5 1017.5 L1179.7 1016.8 L1181.9 1018.6 L1184.1 1020.8 L1186.3 1020.6 L1188.5 1018.2 L1190.7 1018.7 L1192.9 1019.4 L1195.1 1018.4 L1197.3 1019.0 L1199.5 1019.1 L1201.7 1018.5 L1203.9 1019.2 L1206.1 1019.5 L1208.3 1020.6 L1210.5 1019.3 L1212.7 1021.0 L1214.9 1020.0 L1217.1 1020.4 L1219.3 1020.3 L1221.5 1026.1 L1223.7 1023.2 L1225.9 1023.4 L1228.1 1023.0 L1230.3 1021.9 L1232.5 1022.4 L1234.7 1022.7 L1236.9 1023.0 L1239.1 1023.2 L1241.3 1024.3 L1243.5 1019.3 L1245.7 1021.9 L1247.9 1023.2 L1250.1 1021.9 L1252.3 1022.0 L1254.5 1023.7 L1256.7 1022.1 L1258.9 1023.7 L1261.1 1021.6 L1263.3 1021.9 L1265.5 1020.5 L1267.7 1019.7 L1269.9 1021.7 L1272.1 1022.5 L1274.3 1022.2 L1276.5 1020.9 L1278.7 1022.1 L1280.9 1020.3 L1283.1 1019.0 L1285.3 1017.5 L1287.5 1019.9 L1289.7 1019.6 L1291.9 1018.1 L1294.1 1017.5 L1296.3 1017.8 L1298.5 1019.2 L1300.7 1020.4 L1302.9 1017.3 L1305.1 1016.7 L1307.3 1015.2 L1309.5 1020.4 L1311.7 1016.3 L1313.9 1018.7 L1316.1 1018.5 L1318.3 1019.6 L1320.5 1017.2 L1322.7 1015.7 L1324.9 1016.6 L1327.1 1015.8 L1329.3 1015.5 L1331.5 1011.3 L1333.7 1011.4 L1335.9 1010.3 L1338.1 1007.7 L1340.3 1007.6 L1342.5 1007.0 L1344.7 1004.3 L1346.9 1000.8 L1349.1 1000.4 L1351.3 998.3 L1353.5 994.4 L1355.7 989.9 L1357.9 981.8 L1360.1 979.0 L1362.3 974.3 L1364.5 968.0 L1366.7 962.4 L1368.9 954.7 L1371.1 949.5 L1373.3 940.3 L1375.5 931.6 L1377.7 924.8 L1379.9 916.7 L1382.1 909.0 L1384.3 899.6 L1386.5 893.3 L1388.7 888.9 L1390.9 886.1 L1393.1 879.8 L1395.3 873.7 L1397.5 872.2 L1399.7 869.4 L1401.9 866.8 L1404.1 867.3 L1406.3 867.6 L1408.5 869.6 L1410.7 871.8 L1412.9 872.7 L1415.1 873.3 L1417.3 873.1 L1419.5 874.9 L1421.7 876.0 L1423.9 879.1 L1426.1 878.6 L1428.3 880.9 L1430.5 885.7 L1432.7 887.3 L1434.9 888.8 L1437.1 892.0 L1439.3 894.3 L1441.5 896.7 L1443.7 899.7 L1445.9 901.5 L1448.1 903.0 L1450.3 904.6 L1452.5 904.9 L1454.7 907.9 L1456.9 911.0 L1459.1 911.4 L1461.3 911.9 L1463.5 914.1 L1465.7 915.3 L1467.9 918.8 L1470.1 923.0 L1472.3 925.1 L1474.5 926.7 L1476.7 928.5 L1478.9 929.5 L1481.1 930.5 L1483.3 933.9 L1485.5 935.4 L1487.7 938.7 L1489.9 939.5 L1492.1 940.1 L1494.3 942.5 L1496.5 946.5 L1498.7 943.4 L1500.9 946.7 L1503.1 947.2 L1505.3 947.5 L1507.5 947.8 L1509.7 949.7 L1511.9 950.9 L1514.1 952.5 L1516.3 953.3 L1518.5 953.7 L1520.7 953.5 L1522.9 955.3 L1525.1 955.2 L1527.3 955.2 L1529.5 958.0 L1531.7 956.9 L1533.9 956.9 L1536.1 959.0 L1538.3 957.5 L1540.5 960.4 L1542.7 962.0 L1544.9 962.4 L1547.1 964.6 L1549.3 968.2 L1551.5 968.9 L1553.7 969.7 L1555.9 970.5 L1558.1 970.2 L1560.3 971.5 L1562.5 972.1 L1564.7 973.3 L1566.9 974.1 L1569.1 973.6 L1571.3 976.8 L1573.5 974.1 L1575.7 975.9 L1577.9 976.8 L1580.1 975.7 L1582.3 975.1 L1584.5 976.0 L1586.7 978.2 L1588.9 976.8 L1591.1 975.9 L1593.3 977.0 L1595.5 976.2 L1597.7 974.4 L1599.9 976.8 L1602.1 977.8 L1604.3 978.1 L1606.5 976.9 L1608.7 975.7 L1610.9 979.3 L1613.1 978.7 L1615.3 980.8 L1617.5 982.3 L1619.7 982.6 L1621.9 983.0 L1624.1 983.0 L1626.3 983.7 L1628.5 984.5 L1630.7 984.3 L1632.9 985.5 L1635.1 983.2 L1637.3 984.6 L1639.5 986.0 L1641.7 985.6 L1643.9 986.2 L1646.1 986.1 L1648.3 988.6 L1650.5 990.2 L1652.7 987.8 L1654.9 990.6 L1657.1 988.0 L1659.3 989.9 L1661.5 987.7 L1663.7 990.6 L1665.9 990.2 L1668.1 990.4 L1670.3 991.7 L1672.5 991.0 L1674.7 990.3 L1676.9 989.5 L1679.1 990.4 L1681.3 989.6 L1683.5 989.9 L1685.7 992.0 L1687.9 991.3 L1690.1 990.7 L1692.3 991.1 L1694.5 988.8 L1696.7 990.6 L1698.9 988.7 L1701.1 990.0 L1703.3 991.2 L1705.5 991.4 L1707.7 991.9 L1709.9 991.6 L1712.1 992.0 L1714.3 992.6 L1716.5 994.8 L1718.7 995.4 L1720.9 993.0 L1723.1 995.3 L1725.3 996.9 L1727.5 995.5 L1729.7 996.3 L1731.9 995.7 L1734.1 995.2 L1736.3 996.9 L1738.5 996.4 L1740.7 996.7 L1742.9 995.3 L1745.1 995.6 L1747.3 996.8 L1749.5 996.4 L1751.7 997.5 L1753.9 995.7 L1756.1 997.7 L1758.3 997.5 L1760.5 996.9 L1762.7 997.4 L1764.9 996.5 L1767.1 996.2 L1769.3 996.2 L1771.5 994.7 L1773.7 996.0 L1775.9 996.9 L1778.1 994.5 L1780.3 997.3 L1782.5 996.2 L1784.7 996.9 L1786.9 997.9 L1787.0 998.1" stroke="#37ad6b" stroke-width="11"/><path d="M188.6 1161.5 L190.8 1189.5 L193.0 1214.5 L195.2 1226.8 L197.4 1234.7 L199.6 1238.7 L201.8 1235.8 L204.0 1236.2 L206.2 1236.6 L208.4 1231.7 L210.6 1238.8 L212.8 1230.6 L215.0 1233.2 L217.2 1238.4 L219.4 1232.2 L221.6 1232.7 L223.8 1231.4 L226.0 1233.3 L228.2 1227.9 L230.4 1231.2 L232.6 1236.1 L234.8 1232.1 L237.0 1230.2 L239.2 1230.4 L241.4 1229.3 L243.6 1227.8 L245.8 1228.0 L248.0 1222.8 L250.2 1227.5 L252.4 1224.6 L254.6 1227.7 L256.8 1225.8 L259.0 1223.5 L261.2 1225.3 L263.4 1223.0 L265.6 1227.1 L267.8 1224.2 L270.0 1225.5 L272.2 1220.5 L274.4 1225.7 L276.6 1220.7 L278.8 1223.6 L281.0 1221.6 L283.2 1216.2 L285.4 1218.2 L287.6 1215.1 L289.8 1216.2 L292.0 1217.7 L294.2 1215.6 L296.4 1216.5 L298.6 1212.8 L300.8 1217.2 L303.0 1218.5 L305.2 1219.4 L307.4 1213.4 L309.6 1213.5 L311.8 1211.6 L314.0 1206.4 L316.2 1206.7 L318.4 1209.2 L320.6 1205.1 L322.8 1204.5 L325.0 1208.8 L327.2 1207.3 L329.4 1206.3 L331.6 1207.2 L333.8 1206.5 L336.0 1206.5 L338.2 1206.9 L340.4 1208.8 L342.6 1210.6 L344.8 1205.9 L347.0 1205.8 L349.2 1204.5 L351.4 1201.4 L353.6 1204.1 L355.8 1204.9 L358.0 1200.6 L360.2 1203.8 L362.4 1200.2 L364.6 1203.6 L366.8 1203.3 L369.0 1199.4 L371.2 1195.5 L373.4 1198.8 L375.6 1196.2 L377.8 1196.1 L380.0 1198.2 L382.2 1201.6 L384.4 1198.2 L386.6 1197.7 L388.8 1193.9 L391.0 1196.4 L393.2 1194.5 L395.4 1198.4 L397.6 1195.8 L399.8 1196.5 L402.0 1196.1 L404.2 1195.3 L406.4 1197.3 L408.6 1195.8 L410.8 1193.6 L413.0 1194.1 L415.2 1194.6 L417.4 1196.0 L419.6 1192.8 L421.8 1195.4 L424.0 1190.5 L426.2 1191.0 L428.4 1187.9 L430.6 1192.7 L432.8 1188.3 L435.0 1188.0 L437.2 1191.8 L439.4 1188.5 L441.6 1187.8 L443.8 1191.3 L446.0 1188.6 L448.2 1190.8 L450.4 1187.7 L452.6 1190.0 L454.8 1190.5 L457.0 1188.1 L459.2 1191.6 L461.4 1186.6 L463.6 1186.6 L465.8 1186.9 L468.0 1188.5 L470.2 1185.2 L472.4 1184.5 L474.6 1185.6 L476.8 1187.5 L479.0 1183.5 L481.2 1181.5 L483.4 1184.0 L485.6 1185.7 L487.8 1183.1 L490.0 1184.6 L492.2 1180.2 L494.4 1184.3 L496.6 1184.5 L498.8 1185.7 L501.0 1185.0 L503.2 1186.0 L505.4 1182.1 L507.6 1185.6 L509.8 1180.2 L512.0 1182.2 L514.2 1185.5 L516.4 1184.5 L518.6 1178.1 L520.8 1183.1 L523.0 1180.4 L525.2 1179.3 L527.4 1181.2 L529.6 1180.8 L531.8 1183.4 L534.0 1177.0 L536.2 1179.0 L538.4 1179.4 L540.6 1175.5 L542.8 1181.9 L545.0 1183.0 L547.2 1177.5 L549.4 1179.5 L551.6 1177.8 L553.8 1178.7 L556.0 1176.4 L558.2 1179.4 L560.4 1174.8 L562.6 1180.1 L564.8 1177.7 L567.0 1182.1 L569.2 1172.9 L571.4 1176.3 L573.6 1173.5 L575.8 1176.0 L578.0 1177.2 L580.2 1174.1 L582.4 1172.9 L584.6 1172.2 L586.8 1176.4 L589.0 1178.6 L591.2 1178.3 L593.4 1175.7 L595.6 1173.4 L597.8 1174.6 L600.0 1171.9 L602.2 1171.7 L604.4 1177.4 L606.6 1174.3 L608.8 1175.5 L611.0 1174.1 L613.2 1177.5 L615.4 1177.6 L617.6 1172.6 L619.8 1173.4 L622.0 1172.6 L624.2 1176.9 L626.4 1176.6 L628.6 1173.2 L630.8 1178.8 L633.0 1173.6 L635.2 1170.8 L637.4 1168.9 L639.6 1173.0 L641.8 1173.9 L644.0 1171.8 L646.2 1173.7 L648.4 1175.5 L650.6 1172.6 L652.8 1174.5 L655.0 1176.2 L657.2 1173.5 L659.4 1171.0 L661.6 1173.1 L663.8 1173.2 L666.0 1176.6 L668.2 1170.8 L670.4 1168.2 L672.6 1172.0 L674.8 1171.8 L677.0 1169.9 L679.2 1171.8 L681.4 1170.9 L683.6 1172.6 L685.8 1167.8 L688.0 1167.9 L690.2 1169.2 L692.4 1168.0 L694.6 1171.9 L696.8 1170.4 L699.0 1169.2 L701.2 1172.7 L703.4 1170.6 L705.6 1171.9 L707.8 1171.7 L710.0 1169.9 L712.2 1170.2 L714.4 1170.8 L716.6 1168.7 L718.8 1170.6 L721.0 1173.6 L723.2 1172.6 L725.4 1170.2 L727.6 1177.9 L729.8 1170.8 L732.0 1174.9 L734.2 1175.6 L736.4 1177.2 L738.6 1172.9 L740.8 1175.3 L743.0 1175.1 L745.2 1178.3 L747.4 1176.7 L749.6 1176.8 L751.8 1177.1 L754.0 1180.1 L756.2 1177.2 L758.4 1177.5 L760.6 1173.4 L762.8 1176.8 L765.0 1172.3 L767.2 1177.0 L769.4 1175.1 L771.6 1172.8 L773.8 1172.1 L776.0 1174.4 L778.2 1174.9 L780.4 1173.6 L782.6 1174.3 L784.8 1174.6 L787.0 1174.5 L789.2 1175.6 L791.4 1177.1 L793.6 1179.8 L795.8 1178.8 L798.0 1176.6 L800.2 1181.8 L802.4 1181.3 L804.6 1178.5 L806.8 1181.7 L809.0 1178.8 L811.2 1178.7 L813.4 1179.3 L815.6 1184.9 L817.8 1182.1 L820.0 1183.0 L822.2 1182.9 L824.4 1182.3 L826.6 1184.7 L828.8 1185.5 L831.0 1188.8 L833.2 1183.0 L835.4 1188.6 L837.6 1187.1 L839.8 1182.2 L842.0 1188.5 L844.2 1190.3 L846.4 1189.5 L848.6 1187.9 L850.8 1188.0 L853.0 1183.6 L855.2 1188.9 L857.4 1188.7 L859.6 1186.4 L861.8 1189.1 L864.0 1187.3 L866.2 1193.8 L868.4 1186.2 L870.6 1187.0 L872.8 1184.3 L875.0 1188.3 L877.2 1189.5 L879.4 1189.3 L881.6 1188.0 L883.8 1191.5 L886.0 1190.3 L888.2 1192.6 L890.4 1190.1 L892.6 1186.8 L894.8 1190.8 L897.0 1189.2 L899.2 1193.7 L901.4 1190.9 L903.6 1192.1 L905.8 1192.9 L908.0 1189.9 L910.2 1192.6 L912.4 1195.5 L914.6 1192.5 L916.8 1193.5 L919.0 1194.4 L921.2 1192.6 L923.4 1193.6 L925.6 1195.3 L927.8 1193.6 L930.0 1194.6 L932.2 1194.3 L934.4 1192.4 L936.6 1191.9 L938.8 1199.2 L941.0 1198.0 L943.2 1194.8 L945.4 1197.3 L947.6 1197.7 L949.8 1197.5 L952.0 1194.7 L954.2 1192.5 L956.4 1192.9 L958.6 1195.3 L960.8 1198.9 L963.0 1199.5 L965.2 1195.6 L967.4 1195.5 L969.6 1199.0 L971.8 1201.0 L974.0 1194.6 L976.2 1197.8 L978.4 1197.2 L980.6 1196.3 L982.8 1196.4 L985.0 1196.5 L987.2 1197.3 L989.4 1194.0 L991.6 1197.5 L993.8 1199.4 L996.0 1199.4 L998.2 1199.7 L1000.4 1198.8 L1002.6 1198.6 L1004.8 1202.6 L1007.0 1198.1 L1009.2 1198.9 L1011.4 1201.4 L1013.6 1198.9 L1015.8 1196.0 L1018.0 1197.7 L1020.2 1197.9 L1022.4 1198.4 L1024.6 1197.7 L1026.8 1200.6 L1029.0 1199.8 L1031.2 1199.0 L1033.4 1196.8 L1035.6 1199.6 L1037.8 1199.2 L1040.0 1201.6 L1042.2 1195.2 L1044.4 1196.1 L1046.6 1199.2 L1048.8 1193.6 L1051.0 1196.4 L1053.2 1196.2 L1055.4 1195.7 L1057.6 1193.4 L1059.8 1195.4 L1062.0 1192.0 L1064.2 1197.7 L1066.4 1193.9 L1068.6 1195.2 L1070.8 1194.8 L1073.0 1195.1 L1075.2 1194.8 L1077.4 1195.4 L1079.6 1193.5 L1081.8 1194.3 L1084.0 1191.7 L1086.2 1191.7 L1088.4 1192.0 L1090.6 1191.5 L1092.8 1190.5 L1095.0 1192.0 L1097.2 1194.6 L1099.4 1193.9 L1101.6 1192.0 L1103.8 1193.4 L1106.0 1193.3 L1108.2 1198.2 L1110.4 1188.6 L1112.6 1192.5 L1114.8 1188.8 L1117.0 1194.2 L1119.2 1190.8 L1121.4 1192.0 L1123.6 1191.3 L1125.8 1192.1 L1128.0 1184.0 L1130.2 1187.6 L1132.4 1190.1 L1134.6 1186.7 L1136.8 1190.6 L1139.0 1191.8 L1141.2 1186.1 L1143.4 1187.7 L1145.6 1189.7 L1147.8 1192.1 L1150.0 1190.0 L1152.2 1189.2 L1154.4 1185.4 L1156.6 1187.1 L1158.8 1187.0 L1161.0 1185.1 L1163.2 1187.0 L1165.4 1185.1 L1167.6 1184.5 L1169.8 1189.7 L1172.0 1184.4 L1174.2 1188.5 L1176.4 1183.2 L1178.6 1183.6 L1180.8 1180.7 L1183.0 1181.8 L1185.2 1186.1 L1187.4 1182.4 L1189.6 1177.6 L1191.8 1184.7 L1194.0 1179.3 L1196.2 1180.0 L1198.4 1180.5 L1200.6 1176.1 L1202.8 1183.3 L1205.0 1182.4 L1207.2 1178.5 L1209.4 1179.6 L1211.6 1177.8 L1213.8 1176.8 L1216.0 1177.2 L1218.2 1174.1 L1220.4 1176.0 L1222.6 1175.3 L1224.8 1180.3 L1227.0 1172.5 L1229.2 1178.1 L1231.4 1176.6 L1233.6 1174.9 L1235.8 1173.0 L1238.0 1177.9 L1240.2 1176.8 L1242.4 1173.2 L1244.6 1172.6 L1246.8 1173.1 L1249.0 1176.5 L1251.2 1170.2 L1253.4 1172.2 L1255.6 1174.3 L1257.8 1168.6 L1260.0 1171.3 L1262.2 1173.8 L1264.4 1170.2 L1266.6 1170.8 L1268.8 1167.5 L1271.0 1171.5 L1273.2 1168.0 L1275.4 1169.6 L1277.6 1171.0 L1279.8 1168.9 L1282.0 1171.9 L1284.2 1171.4 L1286.4 1170.8 L1288.6 1171.8 L1290.8 1169.2 L1293.0 1164.7 L1295.2 1171.3 L1297.4 1171.0 L1299.6 1168.2 L1301.8 1167.3 L1304.0 1171.7 L1306.2 1168.1 L1308.4 1168.3 L1310.6 1168.1 L1312.8 1174.2 L1315.0 1167.5 L1317.2 1163.4 L1319.4 1168.8 L1321.6 1166.7 L1323.8 1165.1 L1326.0 1169.2 L1328.2 1167.7 L1330.4 1170.8 L1332.6 1168.1 L1334.8 1171.5 L1337.0 1171.0 L1339.2 1168.9 L1341.4 1170.5 L1343.6 1172.8 L1345.8 1170.4 L1348.0 1165.7 L1350.2 1169.0 L1352.4 1169.3 L1354.6 1171.6 L1356.8 1168.6 L1359.0 1171.3 L1361.2 1168.6 L1363.4 1168.9 L1365.6 1168.3 L1367.8 1168.9 L1370.0 1168.7 L1372.2 1169.9 L1374.4 1167.7 L1376.6 1167.3 L1378.8 1169.6 L1381.0 1170.4 L1383.2 1169.4 L1385.4 1171.4 L1387.6 1171.5 L1389.8 1174.6 L1392.0 1168.0 L1394.2 1175.6 L1396.4 1166.3 L1398.6 1167.6 L1400.8 1172.0 L1403.0 1169.3 L1405.2 1170.6 L1407.4 1170.1 L1409.6 1168.1 L1411.8 1167.8 L1414.0 1169.8 L1416.2 1171.3 L1418.4 1171.7 L1420.6 1170.7 L1422.8 1169.7 L1425.0 1173.2 L1427.2 1166.4 L1429.4 1171.9 L1431.6 1175.3 L1433.8 1176.9 L1436.0 1176.9 L1438.2 1178.1 L1440.4 1178.2 L1442.6 1176.9 L1444.8 1172.3 L1447.0 1176.5 L1449.2 1177.5 L1451.4 1181.9 L1453.6 1178.0 L1455.8 1178.6 L1458.0 1181.2 L1460.2 1178.1 L1462.4 1180.7 L1464.6 1182.4 L1466.8 1181.0 L1469.0 1182.2 L1471.2 1179.1 L1473.4 1181.0 L1475.6 1183.9 L1477.8 1187.6 L1480.0 1184.6 L1482.2 1184.5 L1484.4 1185.3 L1486.6 1189.1 L1488.8 1185.0 L1491.0 1189.0 L1493.2 1188.2 L1495.4 1189.6 L1497.6 1188.2 L1499.8 1190.5 L1502.0 1193.7 L1504.2 1190.5 L1506.4 1190.6 L1508.6 1186.5 L1510.8 1193.8 L1513.0 1192.0 L1515.2 1194.9 L1517.4 1195.0 L1519.6 1193.7 L1521.8 1194.8 L1524.0 1193.9 L1526.2 1201.9 L1528.4 1200.2 L1530.6 1200.5 L1532.8 1201.8 L1535.0 1202.7 L1537.2 1202.0 L1539.4 1202.8 L1541.6 1206.4 L1543.8 1197.6 L1546.0 1202.3 L1548.2 1200.9 L1550.4 1202.9 L1552.6 1197.7 L1554.8 1201.4 L1557.0 1206.1 L1559.2 1202.1 L1561.4 1206.6 L1563.6 1204.1 L1565.8 1206.2 L1568.0 1203.8 L1570.2 1206.3 L1572.4 1205.0 L1574.6 1210.1 L1576.8 1205.8 L1579.0 1211.0 L1581.2 1209.8 L1583.4 1211.3 L1585.6 1215.5 L1587.8 1212.5 L1590.0 1212.3 L1592.2 1214.4 L1594.4 1216.4 L1596.6 1214.2 L1598.8 1219.6 L1601.0 1216.7 L1603.2 1216.0 L1605.4 1215.8 L1607.6 1217.3 L1609.8 1219.3 L1612.0 1220.8 L1614.2 1219.2 L1616.4 1218.2 L1618.6 1219.9 L1620.8 1216.0 L1623.0 1223.7 L1625.2 1223.7 L1627.4 1222.1 L1629.6 1224.7 L1631.8 1221.6 L1634.0 1228.2 L1636.2 1224.4 L1638.4 1224.2 L1640.6 1230.0 L1642.8 1223.7 L1645.0 1226.9 L1647.2 1224.4 L1649.4 1225.2 L1651.6 1226.0 L1653.8 1225.6 L1656.0 1230.3 L1658.2 1229.8 L1660.4 1226.5 L1662.6 1233.5 L1664.8 1228.9 L1667.0 1229.5 L1669.2 1231.7 L1671.4 1229.5 L1673.6 1235.7 L1675.8 1231.6 L1678.0 1231.6 L1680.2 1237.3 L1682.4 1233.4 L1684.6 1235.2 L1686.8 1233.4 L1689.0 1235.4 L1691.2 1236.8 L1693.4 1231.6 L1695.6 1237.0 L1697.8 1235.6 L1700.0 1240.7 L1702.2 1242.4 L1704.4 1239.5 L1706.6 1240.1 L1708.8 1241.5 L1711.0 1242.0 L1713.2 1237.0 L1715.4 1237.7 L1717.6 1239.9 L1719.8 1238.4 L1722.0 1241.1 L1724.2 1242.4 L1726.4 1240.8 L1728.6 1243.9 L1730.8 1246.4 L1733.0 1243.7 L1735.2 1244.8 L1737.4 1244.1 L1739.6 1244.3 L1741.8 1243.7 L1744.0 1242.7 L1746.2 1246.7 L1748.4 1248.2 L1750.6 1246.0 L1752.8 1246.7 L1755.0 1243.8 L1757.2 1246.6 L1759.4 1248.1 L1761.6 1247.6 L1763.8 1248.2 L1766.0 1246.2 L1768.2 1245.9 L1770.4 1248.4 L1772.6 1252.4 L1774.8 1248.6 L1777.0 1246.4 L1779.2 1248.5 L1781.4 1249.7 L1783.6 1253.0 L1785.8 1252.9 L1787.0 1248.9" stroke="#ef4041" stroke-width="11.5"/></g>
<g stroke="#000" fill="none">
<line x1="319" y1="120" x2="319" y2="389" stroke-width="2" stroke-dasharray="2.4 1.5"/>
<line x1="319.5" y1="389" x2="319.5" y2="652.5" stroke-width="1.3" stroke-dasharray="2.6 1.4 5.7 1.4"/>
<line x1="497" y1="254" x2="497" y2="315" stroke-width="2" stroke-dasharray="5.7 1.3 2.6 1.3"/>
<line x1="498" y1="315" x2="498" y2="965.5" stroke-width="2" stroke-dasharray="2.5 1.4"/>
<line x1="1334" y1="226" x2="1334" y2="1274" stroke-width="2" stroke-dasharray="5.8 1.2 2.8 1.2"/>
</g>
<g stroke="#000" stroke-width="2" fill="none">
<line x1="599" y1="75.9" x2="500" y2="75.9"/>
<line x1="595.8" y1="107.6" x2="513" y2="146"/>
<line x1="1459.5" y1="843" x2="1451" y2="858"/>
</g>
<g fill="#000">
<polygon points="468,75.9 503,67 503,84"/>
<polygon points="483,159.4 511,138.4 518,152.9"/>
<polygon points="1435,884.4 1445.3,850.2 1460,859.6"/>
</g>
<text transform="matrix(0.9996 0 0 1.0083 107.55 -29.51)" x="100" y="120" font-weight="normal" font-size="67" font-family="Liberation Sans, Arial, sans-serif">1.93 nm</text>
<text transform="matrix(0.9966 0 0 1.0208 260.66 -25.23)" x="100" y="250" font-weight="normal" font-size="67" font-family="Liberation Sans, Arial, sans-serif">1.38 nm</text>
<text transform="matrix(0.9940 0 0 1.0271 127.23 344.68)" x="100" y="380" font-weight="normal" font-size="67" font-family="Liberation Sans, Arial, sans-serif">1.95 nm</text>
<text transform="matrix(1.0012 0 0 1.0468 1168.87 -346.72)" x="100" y="510" font-weight="normal" font-size="67" font-family="Liberation Sans, Arial, sans-serif">PU</text>
<text transform="matrix(1.0035 0 0 1.0119 537.34 -546.07)" x="100" y="640" font-weight="normal" font-size="67" font-family="Liberation Sans, Arial, sans-serif">Sap (<tspan font-style="italic">d</tspan><tspan font-size="45" dy="18.5">001</tspan><tspan dy="-18.5">)</tspan></text>
<text transform="matrix(1.0028 0 0 1.0060 1231.91 40.09)" x="100" y="770" font-weight="normal" font-size="67" font-family="Liberation Sans, Arial, sans-serif">Sap (<tspan font-style="italic">d</tspan><tspan font-size="45" dy="18.5">002</tspan><tspan dy="-18.5">)</tspan></text>
<text transform="matrix(1.0370 0 0 0.9639 1319.99 -514.21)" x="100" y="900" font-weight="normal" font-size="38" font-family="Liberation Sans, Arial, sans-serif">PU/Sap/PDDA/EryB</text>
<text transform="matrix(1.0410 0 0 0.9722 1388.78 -303.77)" x="100" y="1030" font-weight="normal" font-size="38" font-family="Liberation Sans, Arial, sans-serif">PU/Sap/PDDA</text>
<text transform="matrix(1.0594 0 0 1.0029 1511.64 -216.94)" x="100" y="1160" font-weight="normal" font-size="38" font-family="Liberation Sans, Arial, sans-serif">Sap</text>
<text transform="matrix(1.0809 0 0 1.0185 1422.57 -145.89)" x="100" y="1290" font-weight="normal" font-size="38" font-family="Liberation Sans, Arial, sans-serif">PU</text>
<text transform="matrix(0.9452 0 0 1.0045 209.49 -35.46)" x="100" y="1420" font-weight="bold" font-size="63" font-family="Liberation Sans, Arial, sans-serif">5</text>
<text transform="matrix(0.9406 0 0 1.0022 561.07 -162.45)" x="100" y="1550" font-weight="bold" font-size="63" font-family="Liberation Sans, Arial, sans-serif">10</text>
<text transform="matrix(0.9406 0 0 1.0250 928.08 -331.02)" x="100" y="1680" font-weight="bold" font-size="63" font-family="Liberation Sans, Arial, sans-serif">15</text>
<text transform="matrix(0.9409 0 0 1.0022 1294.93 -423.02)" x="100" y="1810" font-weight="bold" font-size="63" font-family="Liberation Sans, Arial, sans-serif">20</text>
<text transform="matrix(0.9455 0 0 1.0000 1661.36 -549.20)" x="100" y="1940" font-weight="bold" font-size="63" font-family="Liberation Sans, Arial, sans-serif">25</text>
<text transform="matrix(0.9950 0 0 0.9935 728.91 -556.55)" x="100" y="2070" font-weight="bold" font-size="67" font-family="Liberation Sans, Arial, sans-serif">2 Theta (°)</text>
<text transform="translate(69.6,607.4) rotate(-90)" font-weight="bold" font-size="67" text-anchor="middle" font-family="Liberation Sans, Arial, sans-serif">Intensity (a.u.)</text>
</svg>
</body></html>
